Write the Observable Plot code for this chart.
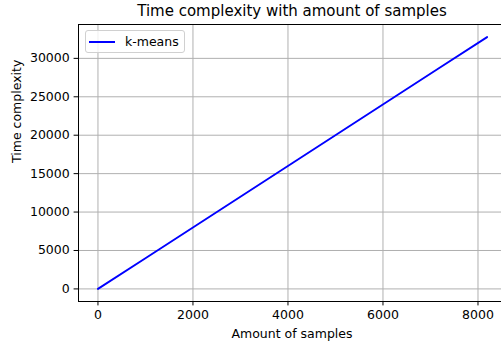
<!DOCTYPE html>
<html>
<head>
<meta charset="utf-8">
<script src="https://cdn.jsdelivr.net/npm/d3@7"></script>
<script src="https://cdn.jsdelivr.net/npm/@observablehq/plot@0.6"></script>
<style>
  html, body { margin: 0; padding: 0; background: #fff; }
  #wrap { position: relative; width: 501px; height: 344px; overflow: hidden; font-family: "DejaVu Sans", sans-serif; }
  #legend { position: absolute; left: 85px; top: 30px; width: 100px; height: 23px; border: 1px solid #d0d0d0; border-radius: 3px; background: rgba(255,255,255,0.8); box-sizing: border-box; }
  #legend .sw { position: absolute; left: 3px; top: 10px; width: 26px; height: 0; border-top: 2px solid #0000ff; }
  #legend .lab { position: absolute; left: 39px; top: 3px; font-size: 12.5px; line-height: 15px; color: #000; white-space: nowrap; }
</style>
</head>
<body>
<div id="wrap"></div>
<script>
const title = "Time complexity with amount of samples";
const xLabel = "Amount of samples";
const yLabel = "Time complexity";
const seriesName = "k-means";
const samples = [0, 1024, 2048, 3072, 4096, 5120, 6144, 7168, 8192];
const complexity = [0, 4096, 8192, 12288, 16384, 20480, 24576, 28672, 32768];
const xTicks = [0, 2000, 4000, 6000, 8000];
const yTicks = [0, 5000, 10000, 15000, 20000, 25000, 30000];

const data = samples.map((s, i) => ({x: s, y: complexity[i]}));
const xDomain = [-409.6, 8495];
const yDomain = [-1638.4, 34406.4];
const grid = "#b0b0b0";

const chart = Plot.plot({
  width: 501,
  height: 344,
  marginTop: 24,
  marginBottom: 43,
  marginLeft: 78,
  marginRight: 0,
  style: {fontFamily: "DejaVu Sans, sans-serif", fontSize: "12.5px", color: "#000", background: "#fff"},
  x: {domain: xDomain},
  y: {domain: yDomain},
  marks: [
    Plot.gridX(xTicks, {stroke: grid, strokeOpacity: 1, strokeWidth: 1}),
    Plot.gridY(yTicks, {stroke: grid, strokeOpacity: 1, strokeWidth: 1}),
    Plot.axisX(xTicks, {tickSize: 4.4, tickPadding: 4, tickFormat: d => String(d), label: null, fontSize: 12.5}),
    Plot.axisY(yTicks, {tickSize: 4.4, tickPadding: 4.4, tickFormat: d => String(d), label: null, fontSize: 12.5}),
    Plot.ruleX([xDomain[0]], {stroke: "#000", strokeWidth: 1}),
    Plot.ruleY([yDomain[0], yDomain[1]], {stroke: "#000", strokeWidth: 1}),
    Plot.line(data, {x: "x", y: "y", stroke: "#0000ff", strokeWidth: 1.9}),
    Plot.text([title], {frameAnchor: "top", lineAnchor: "middle", dy: -13, dx: 2, fontSize: 15, fill: "#000"}),
    Plot.text([xLabel], {frameAnchor: "bottom", lineAnchor: "middle", dy: 32, dx: 2, fontSize: 12.5, fill: "#000"}),
    Plot.text([yLabel], {frameAnchor: "left", dx: -62, rotate: -90, fontSize: 12.5, fill: "#000"})
  ]
});

const wrap = document.getElementById("wrap");
wrap.appendChild(chart);
const legend = document.createElement("div");
legend.id = "legend";
legend.innerHTML = '<div class="sw"></div><div class="lab"></div>';
legend.querySelector(".lab").textContent = seriesName;
wrap.appendChild(legend);
</script>
</body>
</html>
